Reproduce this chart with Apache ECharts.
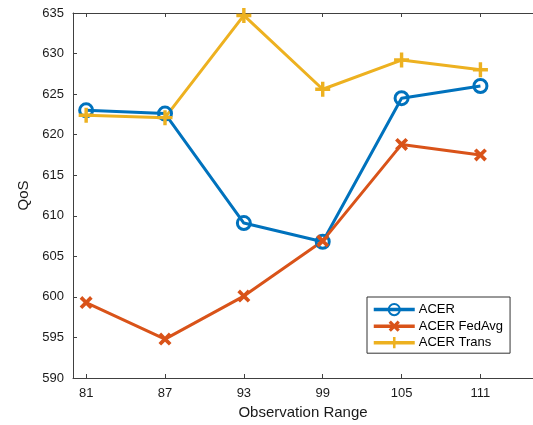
<!DOCTYPE html>
<html>
<head>
<meta charset="utf-8">
<script src="https://cdn.jsdelivr.net/npm/echarts@6/dist/echarts.min.js"></script>
<style>
html,body{margin:0;padding:0;background:#fff;}
#c{width:533px;height:425px;}
</style>
</head>
<body>
<div id="c"></div>
<script>
const xTicks = [81, 87, 93, 99, 105, 111];
const acer = [623.0, 622.6, 609.1, 606.8, 624.5, 626.0];
const acerFedAvg = [599.3, 594.8, 600.1, 606.9, 618.8, 617.5];
const acerTrans = [622.4, 622.1, 634.7, 625.6, 629.2, 628.0];
const yTicks = [590, 595, 600, 605, 610, 615, 620, 625, 630, 635];

const font = 'Liberation Sans, Arial, Helvetica, sans-serif';
const axisCol = '#404040';
const txtCol = '#1a1a1a';

const plusPath = 'path://M5.4,0 H8.6 V5.4 H14 V8.6 H8.6 V14 H5.4 V8.6 H0 V5.4 H5.4 Z';
const xPath = 'path://M0,4 L4,0 L10,6 L16,0 L20,4 L14,10 L20,16 L16,20 L10,14 L4,20 L0,16 L6,10 Z';

function pairs(ys){ return xTicks.map((x,i)=>[x, ys[i]]); }

const chart = echarts.init(document.getElementById('c'), null, {renderer:'canvas'});
chart.setOption({
  animation:false,
  backgroundColor:'#fff',
  grid:{left:73, top:13, right:-4, bottom:47, containLabel:false},
  xAxis:[{
    type:'value', min:80, max:115, position:'bottom',
    name:'Observation Range', nameLocation:'middle', nameGap:26,
    nameTextStyle:{fontFamily:font, fontSize:15, color:txtCol},
    axisLine:{show:true, lineStyle:{color:axisCol, width:1}},
    axisTick:{show:true, inside:true, length:4, customValues:xTicks, lineStyle:{color:axisCol}},
    axisLabel:{show:true, customValues:xTicks, margin:9, fontFamily:font, fontSize:13, color:txtCol},
    splitLine:{show:false}
  },{
    type:'value', min:80, max:115, position:'top',
    axisLine:{show:true, onZero:false, lineStyle:{color:axisCol, width:1}},
    axisTick:{show:true, inside:true, length:4, customValues:xTicks, lineStyle:{color:axisCol}},
    axisLabel:{show:false},
    splitLine:{show:false}
  }],
  yAxis:{
    type:'value', min:590, max:635, interval:5,
    name:'QoS', nameLocation:'middle', nameGap:40, nameRotate:90,
    nameTextStyle:{fontFamily:font, fontSize:15, color:txtCol},
    axisLine:{show:true, lineStyle:{color:axisCol, width:1}},
    axisTick:{show:true, inside:true, length:4, lineStyle:{color:axisCol}},
    axisLabel:{show:true, margin:9, fontFamily:font, fontSize:13, color:txtCol},
    splitLine:{show:false}
  },
  legend:{
    orient:'vertical', left:367, top:297,
    itemWidth:41, itemHeight:14, itemGap:3.5,
    padding:[6,7,4,5],
    borderColor:'#333', borderWidth:1, borderRadius:0,
    backgroundColor:'#fff',
    lineStyle:{width:3.5},
    textStyle:{fontFamily:font, fontSize:13, color:'#000', padding:[0,0,0,-1]},
    data:['ACER','ACER FedAvg','ACER Trans']
  },
  series:[{
    name:'ACER', type:'line', xAxisIndex:0, data:pairs(acer),
    symbol:'circle', symbolSize:13,
    lineStyle:{color:'#0072BD', width:3},
    itemStyle:{color:'rgba(255,255,255,0)', borderColor:'#0072BD', borderWidth:3},
    emphasis:{disabled:true}
  },{
    name:'ACER FedAvg', type:'line', xAxisIndex:0, data:pairs(acerFedAvg),
    symbol:xPath, symbolSize:13,
    lineStyle:{color:'#D95319', width:3},
    itemStyle:{color:'#D95319'},
    emphasis:{disabled:true}
  },{
    name:'ACER Trans', type:'line', xAxisIndex:0, data:pairs(acerTrans),
    symbol:plusPath, symbolSize:15,
    lineStyle:{color:'#EDB120', width:3},
    itemStyle:{color:'#EDB120'},
    emphasis:{disabled:true}
  }]
});
</script>
</body>
</html>
